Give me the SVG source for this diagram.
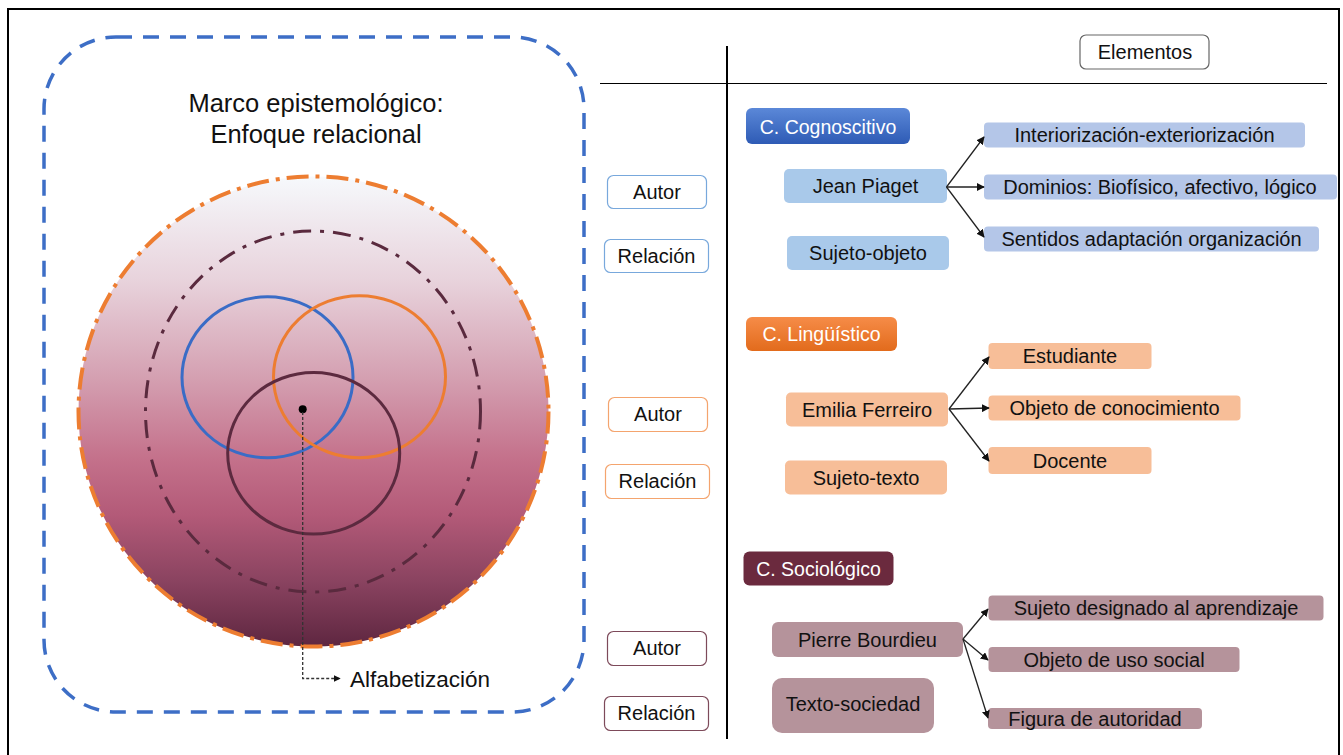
<svg xmlns="http://www.w3.org/2000/svg" width="1343" height="755" viewBox="0 0 1343 755">
<defs>
<linearGradient id="bigGrad" x1="0" y1="176" x2="0" y2="647" gradientUnits="userSpaceOnUse">
<stop offset="0" stop-color="#f6f9fc"/>
<stop offset="0.22" stop-color="#e8d3dc"/>
<stop offset="0.42" stop-color="#d5a2b3"/>
<stop offset="0.6" stop-color="#c4718b"/>
<stop offset="0.72" stop-color="#b35a78"/>
<stop offset="0.86" stop-color="#8a4360"/>
<stop offset="1" stop-color="#5e2640"/>
</linearGradient>
<linearGradient id="blueHead" x1="0" y1="0" x2="0" y2="1">
<stop offset="0" stop-color="#5b88d8"/>
<stop offset="1" stop-color="#2e5bb5"/>
</linearGradient>
<linearGradient id="orangeHead" x1="0" y1="0" x2="0" y2="1">
<stop offset="0" stop-color="#f68c48"/>
<stop offset="1" stop-color="#e26b1c"/>
</linearGradient>
<marker id="arr" viewBox="0 0 10 10" refX="9" refY="5" markerWidth="8" markerHeight="8" markerUnits="userSpaceOnUse" orient="auto">
<path d="M0,0 L10,5 L0,10 z" fill="#111"/>
</marker>
<marker id="arrS" viewBox="0 0 10 10" refX="9" refY="5" markerWidth="7" markerHeight="7" markerUnits="userSpaceOnUse" orient="auto">
<path d="M0,0 L10,5 L0,10 z" fill="#111"/>
</marker>
</defs>
<style>
text{font-family:"Liberation Sans",Arial,sans-serif;font-size:20px;fill:#111;text-anchor:middle;dominant-baseline:central}
.title{font-size:25.5px}
.head{fill:#fff;font-size:19.5px}
.lbl{fill:#fff;stroke-width:1.2}
.lb{stroke:#78a8dc}
.lo{stroke:#f4a46e}
.lm{stroke:#7d4a5a}
.bA{fill:#a9c9ea}
.bB{fill:#b4c6e8}
.oA{fill:#f7be98}
.mA{fill:#b5939b}
.conn{stroke:#222;stroke-width:1.3;fill:none}
</style>
<rect x="8" y="9" width="1331" height="760" fill="#fff" stroke="#000" stroke-width="2"/>

<g id="marco">
<rect x="44" y="37" width="540" height="675" rx="72" ry="72" fill="none" stroke="#3d6ec6" stroke-width="3.5" stroke-dasharray="16 11"/>
<text class="title" x="316" y="103">Marco epistemológico:</text>
<text class="title" x="316" y="134">Enfoque relacional</text>
</g>
<g id="circulo">
<circle cx="313.5" cy="411.5" r="235" fill="url(#bigGrad)" stroke="#ed7d31" stroke-width="4" stroke-dasharray="22 7 4 7"/>
<ellipse cx="313" cy="411.5" rx="167.5" ry="180.5" fill="none" stroke="#5a2a3e" stroke-width="3" stroke-dasharray="18 9 4 9"/>
<ellipse cx="267.5" cy="377.3" rx="85.5" ry="80.5" fill="none" stroke="#3a6cc6" stroke-width="3"/>
<ellipse cx="359.5" cy="376.7" rx="86" ry="81" fill="none" stroke="#ed7d31" stroke-width="3"/>
<ellipse cx="313.7" cy="453.3" rx="86" ry="80.7" fill="none" stroke="#5c2a3f" stroke-width="3"/>
<circle cx="302.7" cy="409.3" r="4" fill="#000"/>
</g>
<g id="alfabetizacion">
<text x="350" y="679" style="text-anchor:start;font-size:22.5px">Alfabetización</text>
</g>

<g id="ejes">
<line x1="727" y1="46" x2="727" y2="739" stroke="#000" stroke-width="2"/>
<line x1="600" y1="83.5" x2="1327" y2="83.5" stroke="#000" stroke-width="1"/>
</g>
<g id="elementos">
<rect x="1080" y="35" width="129" height="34" rx="6" fill="#fff" stroke="#666" stroke-width="1.2"/>
<text x="1145" y="52">Elementos</text>
</g>

<g id="autor1"><rect class="lbl lb" x="607.5" y="175.5" width="99" height="33" rx="6"/><text x="657" y="192">Autor</text></g>
<g id="relacion1"><rect class="lbl lb" x="604.5" y="239.5" width="104" height="33" rx="6"/><text x="656.5" y="256">Relación</text></g>
<g id="autor2"><rect class="lbl lo" x="608.5" y="397.5" width="99" height="34" rx="6"/><text x="658" y="414">Autor</text></g>
<g id="relacion2"><rect class="lbl lo" x="605.5" y="464.5" width="104" height="34" rx="6"/><text x="657.5" y="481">Relación</text></g>
<g id="autor3"><rect class="lbl lm" x="607.5" y="631.5" width="99" height="34" rx="6"/><text x="657" y="648">Autor</text></g>
<g id="relacion3"><rect class="lbl lm" x="604.5" y="696.5" width="104" height="34" rx="6"/><text x="656.5" y="713">Relación</text></g>

<g id="cognoscitivo"><rect x="746" y="108" width="164" height="36" rx="6" fill="url(#blueHead)"/><text class="head" x="828" y="127">C. Cognoscitivo</text></g>
<g id="piaget"><rect class="bA" x="784" y="169" width="163" height="34" rx="5"/><text x="865.5" y="186">Jean Piaget</text></g>
<g id="sujeto-objeto"><rect class="bA" x="787" y="236" width="162" height="34" rx="5"/><text x="868" y="253">Sujeto-objeto</text></g>
<g id="interiorizacion"><rect class="bB" x="984" y="122.5" width="321" height="25" rx="4"/><text x="1144.5" y="135">Interiorización-exteriorización</text></g>
<g id="dominios"><rect class="bB" x="984" y="174.5" width="353" height="25" rx="4"/><text x="1160" y="187">Dominios: Biofísico, afectivo, lógico</text></g>
<g id="sentidos"><rect class="bB" x="984" y="226.5" width="335" height="25" rx="4"/><text x="1151.5" y="239">Sentidos adaptación organización</text></g>

<g id="linguistico"><rect x="746" y="317" width="151" height="34" rx="6" fill="url(#orangeHead)"/><text class="head" x="821.5" y="334">C. Lingüístico</text></g>
<g id="ferreiro"><rect class="oA" x="786" y="392.5" width="162" height="34" rx="5"/><text x="867" y="409.5">Emilia Ferreiro</text></g>
<g id="sujeto-texto"><rect class="oA" x="785" y="460.5" width="162" height="34" rx="5"/><text x="866" y="477.5">Sujeto-texto</text></g>
<g id="estudiante"><rect class="oA" x="988.5" y="343" width="163" height="26" rx="4"/><text x="1070" y="356">Estudiante</text></g>
<g id="objeto-conocimiento"><rect class="oA" x="988.5" y="395.5" width="252" height="25" rx="4"/><text x="1114.5" y="408">Objeto de conocimiento</text></g>
<g id="docente"><rect class="oA" x="988.5" y="447" width="163" height="27" rx="4"/><text x="1070" y="460.5">Docente</text></g>

<g id="sociologico"><rect x="743.5" y="551.5" width="150" height="34" rx="6" fill="#6b2a3e"/><text class="head" x="818.5" y="568.5">C. Sociológico</text></g>
<g id="bourdieu"><rect class="mA" x="772" y="622" width="191" height="35" rx="6"/><text x="867.5" y="639.5">Pierre Bourdieu</text></g>
<g id="texto-sociedad"><rect class="mA" x="772" y="678" width="162" height="55" rx="10"/><text x="853" y="704">Texto-sociedad</text></g>
<g id="sujeto-designado"><rect class="mA" x="988.5" y="595.5" width="335" height="25" rx="4"/><text x="1156" y="608">Sujeto designado al aprendizaje</text></g>
<g id="objeto-uso"><rect class="mA" x="988.5" y="647" width="251" height="25" rx="4"/><text x="1114" y="659.5">Objeto de uso social</text></g>
<g id="figura"><rect class="mA" x="988" y="708" width="214" height="21" rx="4"/><text x="1095" y="718.5">Figura de autoridad</text></g>

<g id="connectors">
<path class="conn" d="M946.5,187 L984,137" marker-end="url(#arr)"/>
<path class="conn" d="M946.5,187 L984,187" marker-end="url(#arr)"/>
<path class="conn" d="M946.5,187 L984,237" marker-end="url(#arr)"/>
<path class="conn" d="M949,409 L989,357" marker-end="url(#arr)"/>
<path class="conn" d="M949,409 L989,408" marker-end="url(#arr)"/>
<path class="conn" d="M949,409 L989,461" marker-end="url(#arr)"/>
<path class="conn" d="M963,639 L988,609" marker-end="url(#arr)"/>
<path class="conn" d="M963,639 L988,660" marker-end="url(#arr)"/>
<path class="conn" d="M963,639 L988,718" marker-end="url(#arr)"/>
<path d="M302.7,412 L302.7,678.5 L340,678.5" fill="none" stroke="#333" stroke-width="1.3" stroke-dasharray="3 2" marker-end="url(#arrS)"/>
</g>
</svg>
